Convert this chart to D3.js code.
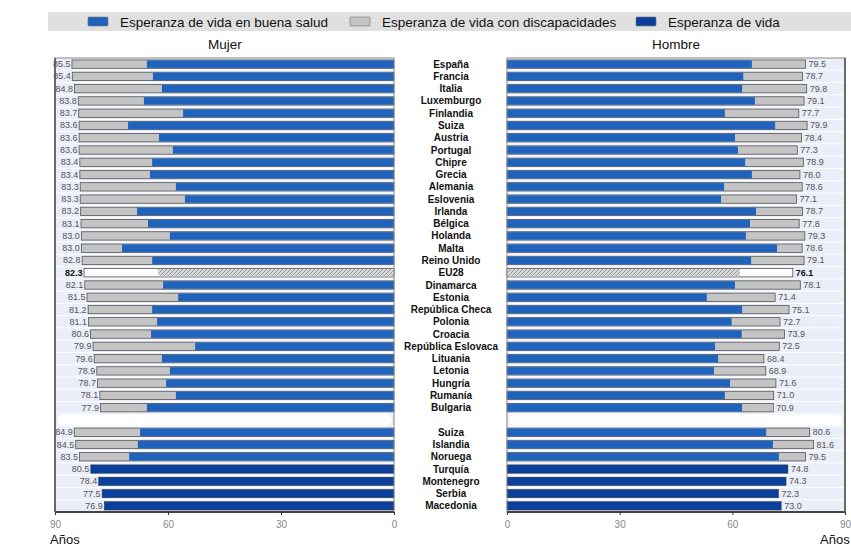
<!DOCTYPE html>
<html><head><meta charset="utf-8">
<script src="https://cdn.jsdelivr.net/npm/d3@7"></script>
<style>
body{margin:0;background:#fff;}
svg{display:block;font-family:"Liberation Sans Narrow","Arial Narrow","Liberation Sans",sans-serif;}
</style></head>
<body><svg id="c" width="851" height="548"></svg>
<script>
const countries = ["España","Francia","Italia","Luxemburgo","Finlandia","Suiza","Austria","Portugal","Chipre","Grecia","Alemania","Eslovenia","Irlanda","Bélgica","Holanda","Malta","Reino Unido","EU28","Dinamarca","Estonia","República Checa","Polonia","Croacia","República Eslovaca","Lituania","Letonia","Hungría","Rumanía","Bulgaria","","Suiza ","Islandia","Noruega","Turquía","Montenegro","Serbia","Macedonia"];
const mujerVida = [85.5,85.4,84.8,83.8,83.7,83.6,83.6,83.6,83.4,83.4,83.3,83.3,83.2,83.1,83.0,83.0,82.8,82.3,82.1,81.5,81.2,81.1,80.6,79.9,79.6,78.9,78.7,78.1,77.9,null,84.9,84.5,83.5,80.5,78.4,77.5,76.9];
const mujerSalud = [65.6,64.0,61.6,66.4,56.0,70.6,62.4,58.7,64.2,64.8,57.9,55.5,68.2,65.3,59.5,72.2,64.2,62.6,61.3,57.3,64.2,62.9,64.5,52.8,61.6,59.5,60.5,57.9,65.6,null,67.4,68.0,70.3,null,null,null,null];
const hombreVida = [79.5,78.7,79.8,79.1,77.7,79.9,78.4,77.3,78.9,78.0,78.6,77.1,78.7,77.8,79.3,78.6,79.1,76.1,78.1,71.4,75.1,72.7,73.9,72.5,68.4,68.9,71.6,71.0,70.9,null,80.6,81.6,79.5,74.8,74.3,72.3,73.0];
const hombreSalud = [65.2,62.9,62.6,66.0,58.0,71.4,60.7,61.5,63.4,65.2,57.8,57.0,66.3,64.7,63.6,71.9,65.0,62.0,60.7,53.2,62.6,59.8,62.5,55.4,56.2,55.1,59.4,58.0,62.6,null,69.0,70.8,72.4,null,null,null,null];
const ticks = [0,30,60,90];
const legendLabels = ["Esperanza de vida en buena salud","Esperanza de vida con discapacidades","Esperanza de vida"];
const panelTitles = ["Mujer","Hombre"];
const axisTitle = "Años";

const svg = d3.select("#c");
const cBlue = "#1f63bd", cDark = "#0a3f9c", cGrey = "#c4c4c4", cBg = "#e9eef8";

const defs = svg.append("defs");
const pat = defs.append("pattern").attr("id","hatch").attr("patternUnits","userSpaceOnUse").attr("width",4).attr("height",4);
pat.append("rect").attr("width",4).attr("height",4).attr("fill","#d8d8d8");
pat.append("path").attr("d","M0,4 L4,0").attr("stroke","#888").attr("stroke-width",0.8);

// legend
svg.append("rect").attr("x",48).attr("y",12).attr("width",803).attr("height",19).attr("fill","#e0e0e0");
const legItems = [
  {x:88, fill:cBlue, label:legendLabels[0]},
  {x:350, fill:cGrey, label:legendLabels[1]},
  {x:636, fill:cDark, label:legendLabels[2]}
];
legItems.forEach(d=>{
  svg.append("rect").attr("x",d.x).attr("y",17).attr("width",20).attr("height",9).attr("fill",d.fill).attr("stroke","#777").attr("stroke-width",0.6).attr("rx",1);
  svg.append("text").attr("x",d.x+32).attr("y",26.5).attr("font-size",13.5).attr("fill","#111").text(d.label);
});

const y = d3.scaleBand().domain(d3.range(countries.length)).range([58,512]).paddingInner(0.32).paddingOuter(0.16);
const bandStep = y.step();

const xL = d3.scaleLinear().domain([0,90]).range([394,55]);
const xR = d3.scaleLinear().domain([0,90]).range([507,845]);

function panel(x, vida, salud, side, title, cx){
  const g = svg.append("g");
  const x0 = x(0), x90 = x(90);
  const left = Math.min(x0,x90), w = Math.abs(x90-x0);
  g.append("rect").attr("x",left).attr("y",58).attr("width",w).attr("height",454).attr("fill","#fff");
  g.selectAll(".bg").data(countries).join("rect")
    .attr("x",left).attr("width",w)
    .attr("y",(d,i)=>y(i)-bandStep*0.16+0.5).attr("height",bandStep-1)
    .attr("fill",cBg);
  countries.forEach((c,i)=>{
    const v = vida[i], s = salud[i];
    const yy = y(i), h = y.bandwidth();
    if(v==null){
      g.append("rect").attr("x",left+2).attr("width",w-4).attr("y",yy-1).attr("height",h+2).attr("fill","#fff").attr("rx",6);
      return;
    }
    const isEU = c==="EU28";
    const xs = Math.min(x(0),x(v)), wv = Math.abs(x(v)-x(0));
    if(s==null){
      g.append("rect").attr("x",xs).attr("y",yy).attr("width",wv).attr("height",h).attr("fill",cDark).attr("stroke","#333").attr("stroke-width",0.5);
    } else {
      g.append("rect").attr("x",xs).attr("y",yy).attr("width",wv).attr("height",h)
        .attr("fill",isEU?"#fff":cGrey).attr("stroke","#555").attr("stroke-width",0.8);
      const xh = Math.min(x(0),x(s)), wh = Math.abs(x(s)-x(0));
      g.append("rect").attr("x",xh).attr("y",yy+0.4).attr("width",wh).attr("height",h-0.8)
        .attr("fill",isEU?"url(#hatch)":cBlue);
    }
    g.append("text")
      .attr("x", side==="L" ? x(v)-1.5 : x(v)+3)
      .attr("y", yy+h/2+3)
      .attr("text-anchor", side==="L"?"end":"start")
      .attr("font-size", 9)
      .attr("font-weight", isEU?"bold":"normal")
      .attr("fill", isEU?"#111":"#555")
      .text(d3.format(".1f")(v));
  });
  g.append("rect").attr("x",left).attr("y",58).attr("width",w).attr("height",454).attr("fill","none").attr("stroke","#888").attr("stroke-width",1);
  g.append("line").attr("x1",left).attr("x2",left+w).attr("y1",512).attr("y2",512).attr("stroke","#444").attr("stroke-width",2);
  g.append("line").attr("x1",side==="L"?left:left+w).attr("x2",side==="L"?left:left+w).attr("y1",58).attr("y2",512).attr("stroke","#555").attr("stroke-width",1.6);
  const ax = svg.append("g").attr("transform","translate(0,512)")
    .call(d3.axisBottom(x).tickValues(ticks).tickSize(3).tickFormat(d3.format("d")));
  ax.select(".domain").remove();
  ax.selectAll(".tick line").attr("stroke","#333");
  ax.selectAll("text").attr("fill","#888").attr("font-size",10).attr("dy","1em");
  svg.append("text").attr("x",cx).attr("y",49).attr("text-anchor","middle").attr("font-size",13.5).attr("fill","#111").text(title);
}
panel(xL, mujerVida, mujerSalud, "L", panelTitles[0], 225);
panel(xR, hombreVida, hombreSalud, "R", panelTitles[1], 676);

svg.append("text").attr("x",50).attr("y",544).attr("font-size",13).attr("fill","#111").text(axisTitle);
svg.append("text").attr("x",820).attr("y",544).attr("font-size",13).attr("fill","#111").text(axisTitle);

svg.selectAll(".cl").data(countries).join("text")
  .attr("x",451).attr("y",(d,i)=>y(i)+y.bandwidth()/2+3.5)
  .attr("text-anchor","middle").attr("font-size",10).attr("font-weight","bold").attr("fill","#111")
  .text(d=>d.trim());
</script></body></html>
